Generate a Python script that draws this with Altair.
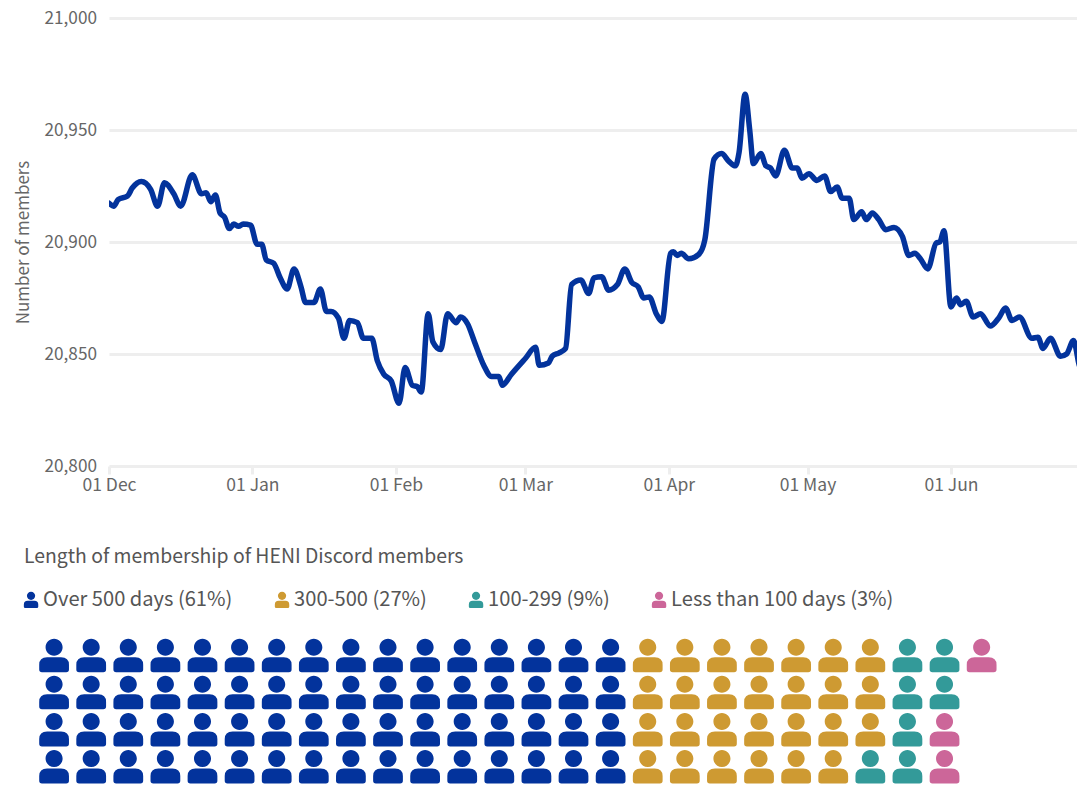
import altair as alt
import pandas as pd

FONT = "Noto Sans CJK SC"
BLUE = "#03339C"
START = pd.Timestamp("2021-12-01")

days = [0, 1, 2, 4, 5, 7, 9, 10.5, 12, 14, 15.5, 18, 20, 21, 22, 23, 24, 25, 26, 27, 28, 29, 30.6, 32, 33, 34,
        35.6, 37, 38.5, 40, 41.5, 42.5, 44.3, 45.7, 47, 48, 49.6, 50.8, 52, 53.7, 55, 56.8, 58, 59.4, 61, 62.7,
        64, 65.6, 66.6, 67.5, 69, 70, 71.7, 73.2, 75, 76, 77.5, 79, 81, 82.7, 84.3, 85, 87, 90, 92.2, 93, 95,
        95.8, 97.3, 98.7, 100, 102, 103.7, 104.8, 106.5, 108, 109.9, 111.5, 113, 114.4, 115.6, 116.8, 118.3,
        119.5, 121.4, 122, 122.8, 123.7, 125.3, 127.5, 128.8, 130.8, 132.4, 134, 135.4, 136.2, 137.5, 138.5,
        139.3, 140.9, 142, 143, 144.1, 146, 147.7, 148.8, 149.8, 151.3, 153, 154.7, 156, 157.4, 158.5, 160,
        161, 162.7, 163.7, 165, 166.4, 167.9, 169.7, 171.5, 172.9, 174.2, 175.4, 177, 178.8, 179.6, 180.5,
        182, 183.2, 184.1, 185.3, 186.8, 188.4, 190.5, 192.3, 193.8, 195.2, 196.8, 199.5, 200.8, 201.9, 203.5,
        205.7, 207, 208.5, 210, 210.5]
members = [20917.3, 20916, 20919, 20920.5, 20924, 20927, 20923.5, 20916, 20926.5, 20921.5, 20916, 20930, 20921.5,
           20922, 20918, 20921, 20913, 20911, 20906, 20908, 20907, 20908, 20907.5, 20899, 20899, 20892,
           20890.5, 20884, 20879, 20888, 20880, 20873, 20873, 20879, 20869, 20869, 20866, 20857, 20865, 20864,
           20857, 20857, 20847, 20841, 20838, 20828,
           20844, 20836, 20835.5, 20833, 20868, 20855.5, 20852, 20868, 20864, 20866.5, 20863.5, 20855.5, 20845,
           20840, 20840, 20836, 20841, 20848, 20853, 20845, 20846,
           20849, 20850.5, 20852.5, 20881, 20883, 20877, 20884, 20884.5, 20878.5, 20881, 20888, 20882, 20880,
           20875, 20875.5, 20868,
           20864.5, 20895, 20895.7, 20894, 20895, 20892.5, 20894.5, 20901, 20937, 20939.5, 20936, 20934, 20940,
           20966, 20950,
           20935, 20939.5, 20934, 20933, 20929.5, 20941, 20933, 20933, 20928.5, 20930.5, 20927.5, 20929.5,
           20922.5, 20924.5, 20919.5, 20919.5,
           20910, 20913.5, 20910, 20913, 20910, 20905.5, 20906.5, 20902.5, 20894, 20895, 20892.5, 20888, 20899.5,
           20900, 20905,
           20871, 20875, 20872, 20873.5, 20866.5, 20868, 20862.5, 20866, 20870.5, 20865, 20866.5, 20857, 20857.5,
           20852.5, 20857,
           20849, 20850, 20856, 20844, 20845]

groups = ["Over 500 days (61%)", "300-500 (27%)", "100-299 (9%)", "Less than 100 days (3%)"]
counts = [64, 27, 7, 3]
colors = ["#03339C", "#CE9A32", "#339A99", "#CC6699"]
rows_per_col = 4

PERSON = ("M-0.55,-0.535 A0.55,0.55 0 1,1 0.55,-0.535 A0.55,0.55 0 1,1 -0.55,-0.535 Z "
          "M-0.96,0.9 V0.6 Q-0.96,0.11 -0.45,0.11 H0.45 Q0.96,0.11 0.96,0.6 V0.9 Q0.96,1.08 0.78,1.08 H-0.78 Q-0.96,1.08 -0.96,0.9 Z")

line_df = pd.DataFrame({
    "date": [START + pd.Timedelta(hours=d * 24) for d in days],
    "members": members,
})

labels = [g for g, c in zip(groups, counts) for _ in range(c)]
waffle_df = pd.DataFrame({
    "group": labels,
    "col": [i // rows_per_col for i in range(len(labels))],
    "row": [i % rows_per_col for i in range(len(labels))],
})

line = (
    alt.Chart(line_df)
    .mark_line(color=BLUE, strokeWidth=5.5, interpolate="monotone", strokeCap="round", strokeJoin="round", clip=True)
    .encode(
        x=alt.X("date:T",
                scale=alt.Scale(domain=["2021-12-01T00:00:00", "2022-06-28T06:00:00"], nice=False),
                axis=alt.Axis(title=None, format="%d %b", tickCount="month", grid=False, domain=False,
                              ticks=True, tickColor="#eeeeee", tickWidth=3, tickSize=8, labelFontSize=17.5,
                              labelColor="#666666", labelFont=FONT, labelPadding=2, labelFlush=False,
                              labelOverlap=False, labelBound=False)),
        y=alt.Y("members:Q",
                scale=alt.Scale(domain=[20800, 21000], nice=False),
                axis=alt.Axis(title="Number of members", values=[20800, 20850, 20900, 20950, 21000], format=",.0f",
                              grid=True, gridColor="#eeeeee", gridWidth=3, domain=False, ticks=False,
                              labelFontSize=17.2, labelColor="#666666", labelFont=FONT, labelPadding=12.5,
                              titleFontSize=17, titleFontWeight="normal", titleColor="#666666", titleFont=FONT,
                              titlePadding=12)),
    )
    .properties(width=968, height=448)
)

waffle = (
    alt.Chart(waffle_df)
    .mark_point(shape=PERSON, filled=True, opacity=1, size=961)
    .encode(
        x=alt.X("col:Q", scale=alt.Scale(domain=[1.48, 27.57], nice=False), axis=None),
        y=alt.Y("row:Q", scale=alt.Scale(domain=[-3.33, 3.14], nice=False, reverse=True), axis=None),
        color=alt.Color("group:N",
                        scale=alt.Scale(domain=groups, range=colors),
                        sort=groups,
                        legend=alt.Legend(title="Length of membership of HENI Discord members",
                                          orient="none", legendX=-85, legendY=530,
                                          direction="horizontal", columns=4, columnPadding=41,
                                          symbolType=PERSON, symbolSize=225, symbolOpacity=1, symbolOffset=-3,
                                          titleFont=FONT, titleFontSize=19.4, titleFontWeight="normal",
                                          titleColor="#555555", titlePadding=22, titleLimit=800,
                                          labelFont=FONT, labelFontSize=20.1, labelColor="#555555",
                                          labelLimit=400, labelOffset=2)),
    )
    .properties(width=968, height=240)
)

chart = (
    alt.vconcat(line, waffle, spacing=38)
    .properties(padding={"left": 6, "top": 1, "right": 0, "bottom": 0})
    .configure_view(stroke=None)
    .configure_concat(spacing=38)
)

chart.save("out.html", embed_options={"renderer": "svg", "actions": False})
